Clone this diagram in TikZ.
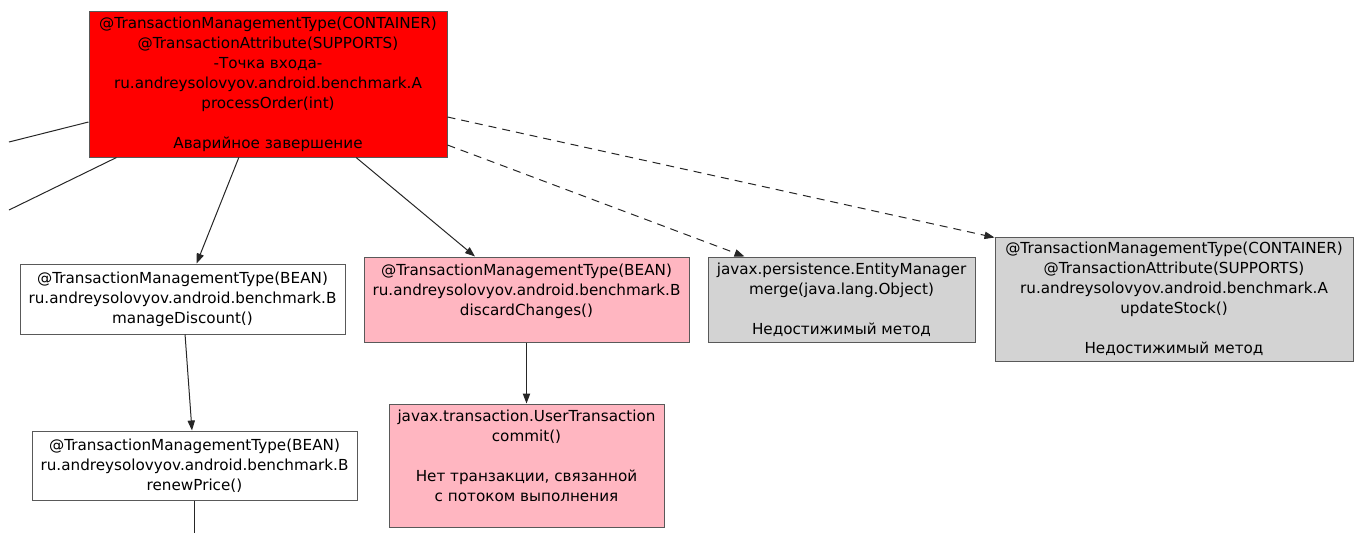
\documentclass[tikz,border=0pt]{standalone}
\usepackage{fontspec}
\setmainfont{DejaVu Sans}
\usepackage{tikz}
\usetikzlibrary{calc,arrows.meta,positioning}
\definecolor{crash}{RGB}{255,0,0}
\definecolor{nontx}{RGB}{255,182,193}
\definecolor{unreach}{RGB}{211,211,211}
\newcommand{\methodfont}{\fontsize{11.4}{15}\selectfont}
\tikzset{
  method/.style={draw=black!65,line width=0.75pt,inner sep=0pt,align=center,
    font=\methodfont},
  boxsize/.style 2 args={minimum width=#1*0.75pt,minimum height=#2*0.75pt},
  entry/.style={method,fill=crash},
  bean/.style={method,fill=white},
  failed/.style={method,fill=nontx},
  unreached/.style={method,fill=unreach},
  call/.style={-{Triangle[length=7.5pt,width=5.5pt]},line width=0.75pt,black!85},
  maycall/.style={call,dash pattern=on 6pt off 4.5pt},
  stub/.style={line width=0.75pt,black!85}
}

\begin{document}
\begin{tikzpicture}[x=0.75pt,y=-0.75pt]
  \useasboundingbox (0,0) rectangle (1359,533);
  % methods
  \node[entry,boxsize={358}{146}] (A) at (268,84)
    {@TransactionManagementType(CONTAINER)\\@TransactionAttribute(SUPPORTS)\\
     -Точка входа-\\ru.andreysolovyov.android.benchmark.A\\processOrder(int)\\~\\
     Аварийное завершение};
  \node[bean,boxsize={325}{70}] (discount) at (182.5,299)
    {@TransactionManagementType(BEAN)\\ru.andreysolovyov.android.benchmark.B\\
     manageDiscount()};
  \node[bean,boxsize={325}{69}] (price) at (194.5,465.5)
    {@TransactionManagementType(BEAN)\\ru.andreysolovyov.android.benchmark.B\\
     renewPrice()};
  \node[failed,boxsize={325}{85}] (discard) at (526.5,299.5)
    {@TransactionManagementType(BEAN)\\ru.andreysolovyov.android.benchmark.B\\
     discardChanges()\\~};
  \node[failed,boxsize={275}{123}] (commit) at (526.5,465.5)
    {javax.transaction.UserTransaction\\commit()\\~\\
     Нет транзакции, связанной\\с потоком выполнения\\~};
  \node[unreached,boxsize={267}{85}] (merge) at (841.5,299.5)
    {javax.persistence.EntityManager\\merge(java.lang.Object)\\~\\
     Недостижимый метод};
  \node[unreached,boxsize={358}{124}] (stock) at (1174,299)
    {@TransactionManagementType(CONTAINER)\\@TransactionAttribute(SUPPORTS)\\
     ru.andreysolovyov.android.benchmark.A\\updateStock()\\~\\
     Недостижимый метод};
  % edges leaving the frame
  \coordinate (out1) at (9,142);
  \coordinate (out2) at (9,210);
  \coordinate (out3) at (194.5,533);
  \draw[stub] ($(A.west)+(0,38)$) -- (out1);
  \draw[stub] ($(A.south west)+(28,0)$) -- (out2);
  \draw[stub] (price.south) -- (out3);
  % calls
  \draw[call] (A) -- (discount);
  \draw[call] (A) -- (discard);
  \draw[call] (discount) -- (price);
  \draw[call] (discard) -- (commit);
  \draw[maycall] ($(A.east)+(0,61)$) -- ($(merge.north west)+(37,0)$);
  \draw[maycall] ($(A.east)+(0,33)$) -- ($(stock.north west)+(0,1)$);
\end{tikzpicture}
\end{document}
